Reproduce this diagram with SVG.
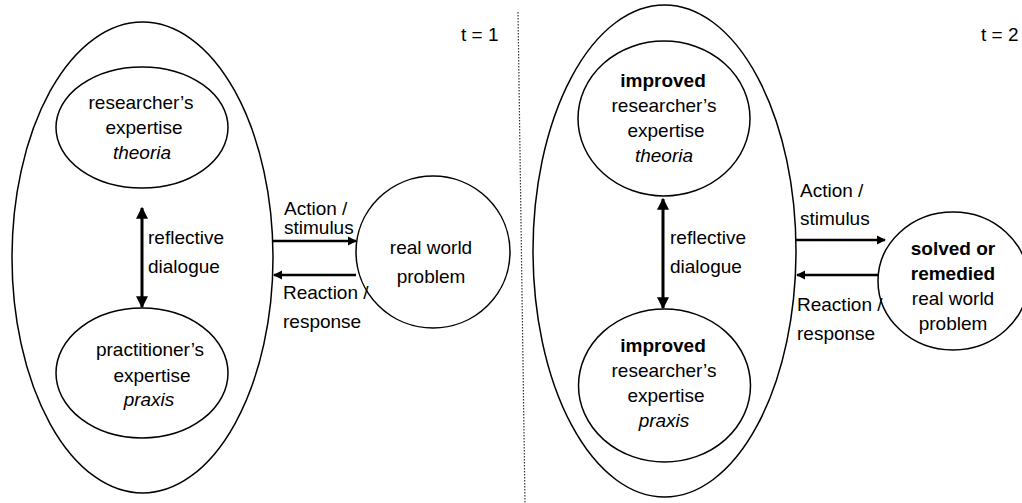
<svg xmlns="http://www.w3.org/2000/svg" width="1022" height="503" viewBox="0 0 1022 503">
<defs>
<style>
.sh{fill:#fff;stroke:#000;stroke-width:1.5}
text{font-family:"Liberation Sans",Arial,sans-serif;font-size:19px;fill:#000}
.m{text-anchor:middle}
.i{font-style:italic}
.b{font-weight:bold}
.dd{stroke:#000;stroke-width:3}
.hh{stroke:#000;stroke-width:2.5}
</style>
<marker id="ah" viewBox="0 0 10 10" refX="9" refY="5" markerWidth="12" markerHeight="14" markerUnits="userSpaceOnUse" orient="auto-start-reverse"><path d="M0,0 L10,5 L0,10 Z" fill="#000"/></marker>
<marker id="as" viewBox="0 0 10 10" refX="9" refY="5" markerWidth="9" markerHeight="10" markerUnits="userSpaceOnUse" orient="auto"><path d="M0,0 L10,5 L0,10 Z" fill="#000"/></marker>
</defs>
<rect width="1022" height="503" fill="#fff"/>
<line x1="518" y1="12" x2="525" y2="503" stroke="#333" stroke-width="1.2" stroke-dasharray="1.5 1.5"/>

<g id="panel1">
<g id="outer1"><ellipse class="sh" cx="142.5" cy="257.5" rx="130.5" ry="235.5"/></g>
<g id="theory1"><ellipse class="sh" cx="142" cy="127.5" rx="86" ry="60.5"/>
<text class="m" x="141" y="109">researcher’s</text>
<text class="m" x="144" y="134">expertise</text>
<text class="m i" x="142" y="159">theoria</text></g>
<g id="praxis1"><ellipse class="sh" cx="142" cy="373" rx="86" ry="65"/>
<text class="m" x="150" y="356">practitioner’s</text>
<text class="m" x="152" y="382">expertise</text>
<text class="m i" x="149" y="406">praxis</text></g>
<g id="problem1"><ellipse class="sh" cx="433" cy="252" rx="77" ry="76"/>
<text class="m" x="431" y="254">real world</text>
<text class="m" x="431" y="283">problem</text></g>
<text x="461" y="41">t = 1</text>
</g>

<g id="panel2">
<g id="outer2"><ellipse class="sh" cx="664.5" cy="251" rx="131.5" ry="246"/></g>
<g id="theory2"><ellipse class="sh" cx="664" cy="118.5" rx="86" ry="77.5"/>
<text class="m b" x="663" y="87">improved</text>
<text class="m" x="664" y="112">researcher’s</text>
<text class="m" x="666" y="137">expertise</text>
<text class="m i" x="664" y="162">theoria</text></g>
<g id="praxis2"><ellipse class="sh" cx="664.5" cy="385.5" rx="86" ry="76.5"/>
<text class="m b" x="663" y="352">improved</text>
<text class="m" x="664" y="377">researcher’s</text>
<text class="m" x="666" y="402">expertise</text>
<text class="m i" x="664" y="427">praxis</text></g>
<g id="problem2"><ellipse class="sh" cx="953" cy="281" rx="75" ry="69"/>
<text class="m b" x="953" y="255">solved or</text>
<text class="m b" x="953" y="280">remedied</text>
<text class="m" x="953" y="305">real world</text>
<text class="m" x="953" y="330">problem</text></g>
<text x="981" y="41">t = 2</text>
</g>

<g id="connectors">
<line class="dd" x1="142" y1="208" x2="142" y2="307" marker-start="url(#ah)" marker-end="url(#ah)"/>
<line class="hh" x1="273" y1="241" x2="356" y2="241" marker-end="url(#as)"/>
<line class="hh" x1="356" y1="275" x2="274" y2="275" marker-end="url(#as)"/>
<line class="dd" x1="663" y1="199" x2="663" y2="308" marker-start="url(#ah)" marker-end="url(#ah)"/>
<line class="hh" x1="796" y1="240" x2="885" y2="240" marker-end="url(#as)"/>
<line class="hh" x1="878" y1="275" x2="797" y2="275" marker-end="url(#as)"/>
<text x="148" y="244">reflective</text>
<text x="148" y="273">dialogue</text>
<text x="284" y="215">Action /</text>
<text x="284" y="234">stimulus</text>
<text x="283" y="299">Reaction /</text>
<text x="283" y="328">response</text>
<text x="670" y="244">reflective</text>
<text x="670" y="273">dialogue</text>
<text x="800" y="197">Action /</text>
<text x="800" y="225">stimulus</text>
<text x="797" y="311">Reaction /</text>
<text x="797" y="340">response</text>
</g>
</svg>
